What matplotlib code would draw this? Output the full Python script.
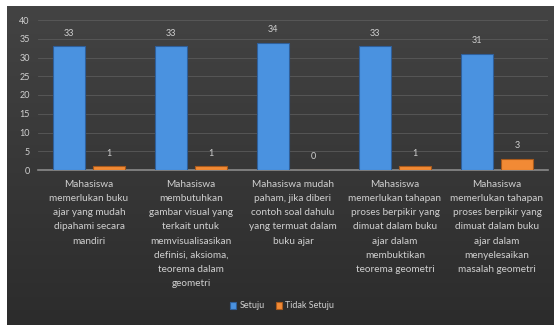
import matplotlib.pyplot as plt
import numpy as np

# Data
categories = [
    "Mahasiswa\nmemerlukan buku\najar yang mudah\ndipahami secara\nmandiri",
    "Mahasiswa\nmembutuhkan\ngambar visual yang\nterkait untuk\nmemvisualisasikan\ndefinisi, aksioma,\nteorema dalam\ngeometri",
    "Mahasiswa mudah\npaham, jika diberi\ncontoh soal dahulu\nyang termuat dalam\nbuku ajar",
    "Mahasiswa\nmemerlukan tahapan\nproses berpikir yang\ndimuat dalam buku\najar dalam\nmembuktikan\nteorema geometri",
    "Mahasiswa\nmemerlukan tahapan\nproses berpikir yang\ndimuat dalam buku\najar dalam\nmenyelesaikan\nmasalah geometri",
]
setuju = [33, 33, 34, 33, 31]
tidak_setuju = [1, 1, 0, 1, 3]
yticks = [0, 5, 10, 15, 20, 25, 30, 35, 40]

plt.rcParams['font.family'] = ['Lato', 'DejaVu Sans']
txt = '#d0d0d0'

W, H = 554, 327
fig = plt.figure(figsize=(W / 100, H / 100), dpi=100, facecolor='white')

# dark gradient panel
bg = fig.add_axes([7 / W, 2 / H, 1 - 7 / W, (325 - 6) / H])
grad = np.linspace(0, 1, 256).reshape(-1, 1)
bg.imshow(grad, aspect='auto', cmap=plt.matplotlib.colors.LinearSegmentedColormap.from_list(
    'g', ['#434343', '#2c2c2c']), extent=[0, 1, 0, 1])
bg.set_axis_off()

ax = fig.add_axes([38 / W, (H - 170) / H, 510 / W, 150 / H])
ax.patch.set_alpha(0)

x = np.arange(len(categories))
w = 0.31
off = 0.196
b1 = ax.bar(x - off, setuju, w, color='#4a92e0', edgecolor='#2f5f9a', linewidth=0.8, label='Setuju', zorder=3)
b2 = ax.bar(x + off, tidak_setuju, w, color='#f28a35', edgecolor='#a85a1c', linewidth=0.8, label='Tidak Setuju', zorder=3)

for bars, vals in ((b1, setuju), (b2, tidak_setuju)):
    for r, v in zip(bars, vals):
        ax.text(r.get_x() + r.get_width() / 2, v + 2.3, str(v), ha='center', va='bottom',
                color=txt, fontsize=6.5)

ax.set_xlim(-0.5, len(categories) - 0.5)
ax.set_ylim(0, 40)
ax.set_yticks(yticks)
ax.yaxis.grid(True, color='#5a5a5a', linewidth=0.6, zorder=0)
ax.tick_params(axis='y', length=0, labelcolor=txt, labelsize=6.5, pad=6)
ax.set_xticks(x)
ax.set_xticklabels(categories, color=txt, fontsize=7.2, linespacing=1.75)
ax.tick_params(axis='x', length=0, pad=7)
for s in ['top', 'right', 'left']:
    ax.spines[s].set_visible(False)
ax.spines['bottom'].set_color('#8a8a8a')
ax.spines['bottom'].set_linewidth(1.2)

leg = fig.legend(handles=[b1, b2], loc='center', bbox_to_anchor=(282 / W, (H - 306) / H),
                 ncol=2, frameon=False, fontsize=6.5, handlelength=0.7, handleheight=0.7,
                 columnspacing=1.2, handletextpad=0.4)
for t in leg.get_texts():
    t.set_color(txt)

fig.savefig('out.png', dpi=100, facecolor='white')
